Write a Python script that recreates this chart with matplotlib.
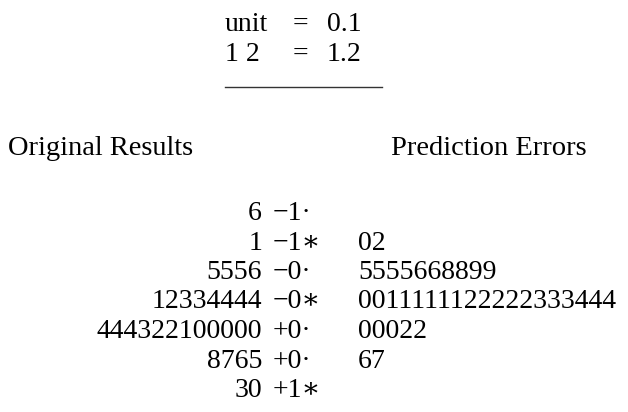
import matplotlib.pyplot as plt

plt.rcParams['font.family'] = ['Liberation Serif', 'DejaVu Serif']

# key of the display
key_left = ["unit", "1 2"]
key_right = ["0.1", "1.2"]

# column headings
head_left = "Original Results"
head_right = "Prediction Errors"

# back-to-back stem and leaf rows
stems = ["−1·", "−1∗", "−0·", "−0∗", "+0·", "+0·", "+1∗"]
orig_leaves = ["6", "1", "5556", "12334444", "444322100000", "8765", "30"]
err_leaves = ["", "02", "5555668899", "0011111122222333444", "00022", "67", ""]

fs = 20

fig = plt.figure(figsize=(6.28, 4.12), dpi=100)
ax = fig.add_axes([0, 0, 1, 1])
ax.set_xlim(0, 628)
ax.set_ylim(412, 0)
ax.axis('off')

# key block
for i, (a, b) in enumerate(zip(key_left, key_right)):
    y = 31 + i * 30
    ax.text(225, y, a, fontsize=fs, va='baseline', ha='left')
    ax.text(293, y, "=", fontsize=fs, va='baseline', ha='left')
    ax.text(327, y, b, fontsize=fs, va='baseline', ha='left')
ax.plot([225, 382], [87, 87], color='#333333', lw=1)

# headings
ax.text(8, 155, head_left, fontsize=20.5, va='baseline', ha='left')
ax.text(391, 155, head_right, fontsize=20.5, va='baseline', ha='left')

# rows
for i, (s, l, r) in enumerate(zip(stems, orig_leaves, err_leaves)):
    y = 220 + i * 29.5
    ax.text(262, y, l, fontsize=fs, va='baseline', ha='right')
    ax.text(273, y, s, fontsize=fs, va='baseline', ha='left')
    ax.text(358, y, r, fontsize=fs, va='baseline', ha='left')

fig.savefig("out.png", dpi=100)
